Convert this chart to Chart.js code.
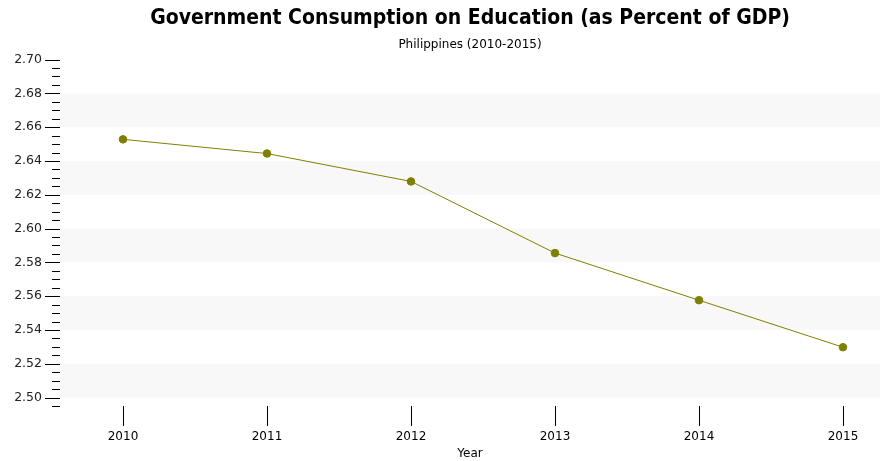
<!DOCTYPE html>
<html lang="en">
<head>
<meta charset="UTF-8">
<title>Government Consumption on Education</title>
<script src="https://cdn.jsdelivr.net/npm/chart.js@4"></script>
<style>
  html, body { margin: 0; padding: 0; background: #fff; }
  #wrap { width: 881px; height: 461px; }
</style>
</head>
<body>
<div id="wrap"><canvas id="chartCanvas" width="881" height="461"></canvas></div>
<script>
const years = [2010, 2011, 2012, 2013, 2014, 2015]
const eduSpending = [2.6528, 2.6444, 2.6279, 2.5855, 2.5576, 2.5298]
const yMajorTicks = [2.50, 2.52, 2.54, 2.56, 2.58, 2.60, 2.62, 2.64, 2.66, 2.68, 2.70]
const yMin = 2.495
const yMax = 2.70
const yMinorStep = 0.005
const shadedBands = [[2.50, 2.52], [2.54, 2.56], [2.58, 2.60], [2.62, 2.64], [2.66, 2.68]]

const FONT = "'DejaVu Sans', sans-serif"

function isMajor(v){
  return yMajorTicks.some(m => Math.abs(m - v) < 1e-6)
}

// shaded bands behind the plot + hand drawn tick marks
const bandsAndTicks = {
  id: "bandsAndTicks",
  beforeDatasetsDraw(chart){
    const {ctx, chartArea, scales} = chart
    ctx.save()
    ctx.fillStyle = "#f8f8f8"
    shadedBands.forEach(b => {
      const top = scales.y.getPixelForValue(b[1])
      const bottom = scales.y.getPixelForValue(b[0])
      ctx.fillRect(chartArea.left, top, chartArea.right - chartArea.left, bottom - top)
    })
    ctx.restore()
  },
  afterDraw(chart){
    const {ctx, chartArea, scales} = chart
    ctx.save()
    ctx.strokeStyle = "#000"
    ctx.lineWidth = 1
    scales.y.ticks.forEach(t => {
      const py = Math.round(scales.y.getPixelForValue(t.value)) + 0.5
      const len = isMajor(t.value) ? 15 : 8
      ctx.beginPath()
      ctx.moveTo(chartArea.left - len, py)
      ctx.lineTo(chartArea.left, py)
      ctx.stroke()
    })
    scales.x.ticks.forEach(t => {
      const px = Math.round(scales.x.getPixelForValue(t.value)) + 0.5
      ctx.beginPath()
      ctx.moveTo(px, chartArea.bottom)
      ctx.lineTo(px, chartArea.bottom + 20)
      ctx.stroke()
    })
    ctx.restore()
  }
}

const ctx = document.getElementById("chartCanvas").getContext("2d")
new Chart(ctx, {
  type: "line",
  data: {
    datasets: [{
      label: "Education",
      data: years.map((y, i) => ({x: y, y: eduSpending[i]})),
      borderColor: "#808000",
      backgroundColor: "#808000",
      borderWidth: 1,
      pointRadius: 3.8,
      pointHoverRadius: 3.8,
      fill: false,
      tension: 0
    }]
  },
  options: {
    responsive: false,
    animation: false,
    layout: { autoPadding: false, padding: { left: 0, right: 1, top: 0, bottom: 0 } },
    plugins: {
      legend: { display: false },
      tooltip: { enabled: false },
      title: {
        display: true,
        fullSize: false,
        text: "Government Consumption on Education (as Percent of GDP)",
        color: "#000",
        font: { family: "'DejaVu Sans Condensed', " + FONT, size: 21, weight: "bold", lineHeight: 1.2 },
        padding: { top: 6, bottom: 0 }
      },
      subtitle: {
        display: true,
        fullSize: false,
        text: "Philippines (2010-2015)",
        color: "#000",
        font: { family: FONT, size: 12, lineHeight: 1.2 },
        padding: { top: 6, bottom: 8 }
      }
    },
    scales: {
      x: {
        type: "linear",
        min: 2009.5625,
        max: 2015.257,
        grid: { display: false },
        border: { display: false },
        afterBuildTicks(scale){
          scale.ticks = years.map(v => ({value: v}))
        },
        ticks: {
          color: "#000",
          font: { family: FONT, size: 12 },
          padding: 16,
          maxRotation: 0,
          autoSkip: false,
          callback: v => String(v)
        },
        title: {
          display: true,
          text: "Year",
          color: "#000",
          font: { family: FONT, size: 12 },
          padding: { top: 0, bottom: 0 }
        },
        afterFit(scale){
          scale.height = 55
          scale.paddingLeft = 0
          scale.paddingRight = 0
        }
      },
      y: {
        type: "linear",
        min: yMin,
        max: yMax,
        grid: { display: false },
        border: { display: false },
        afterBuildTicks(scale){
          const ticks = []
          const n = Math.round((yMax - yMin) / yMinorStep)
          for(let i = 0; i <= n; i += 1){
            ticks.push({value: Math.round((yMin + i * yMinorStep) * 1000) / 1000})
          }
          scale.ticks = ticks
        },
        ticks: {
          color: "#222",
          font: { family: FONT, size: 12.5 },
          padding: 10,
          autoSkip: false,
          callback: v => isMajor(v) ? v.toFixed(2) : ""
        },
        afterFit(scale){ scale.width = 60 }
      }
    }
  },
  plugins: [bandsAndTicks]
})
</script>
</body>
</html>
